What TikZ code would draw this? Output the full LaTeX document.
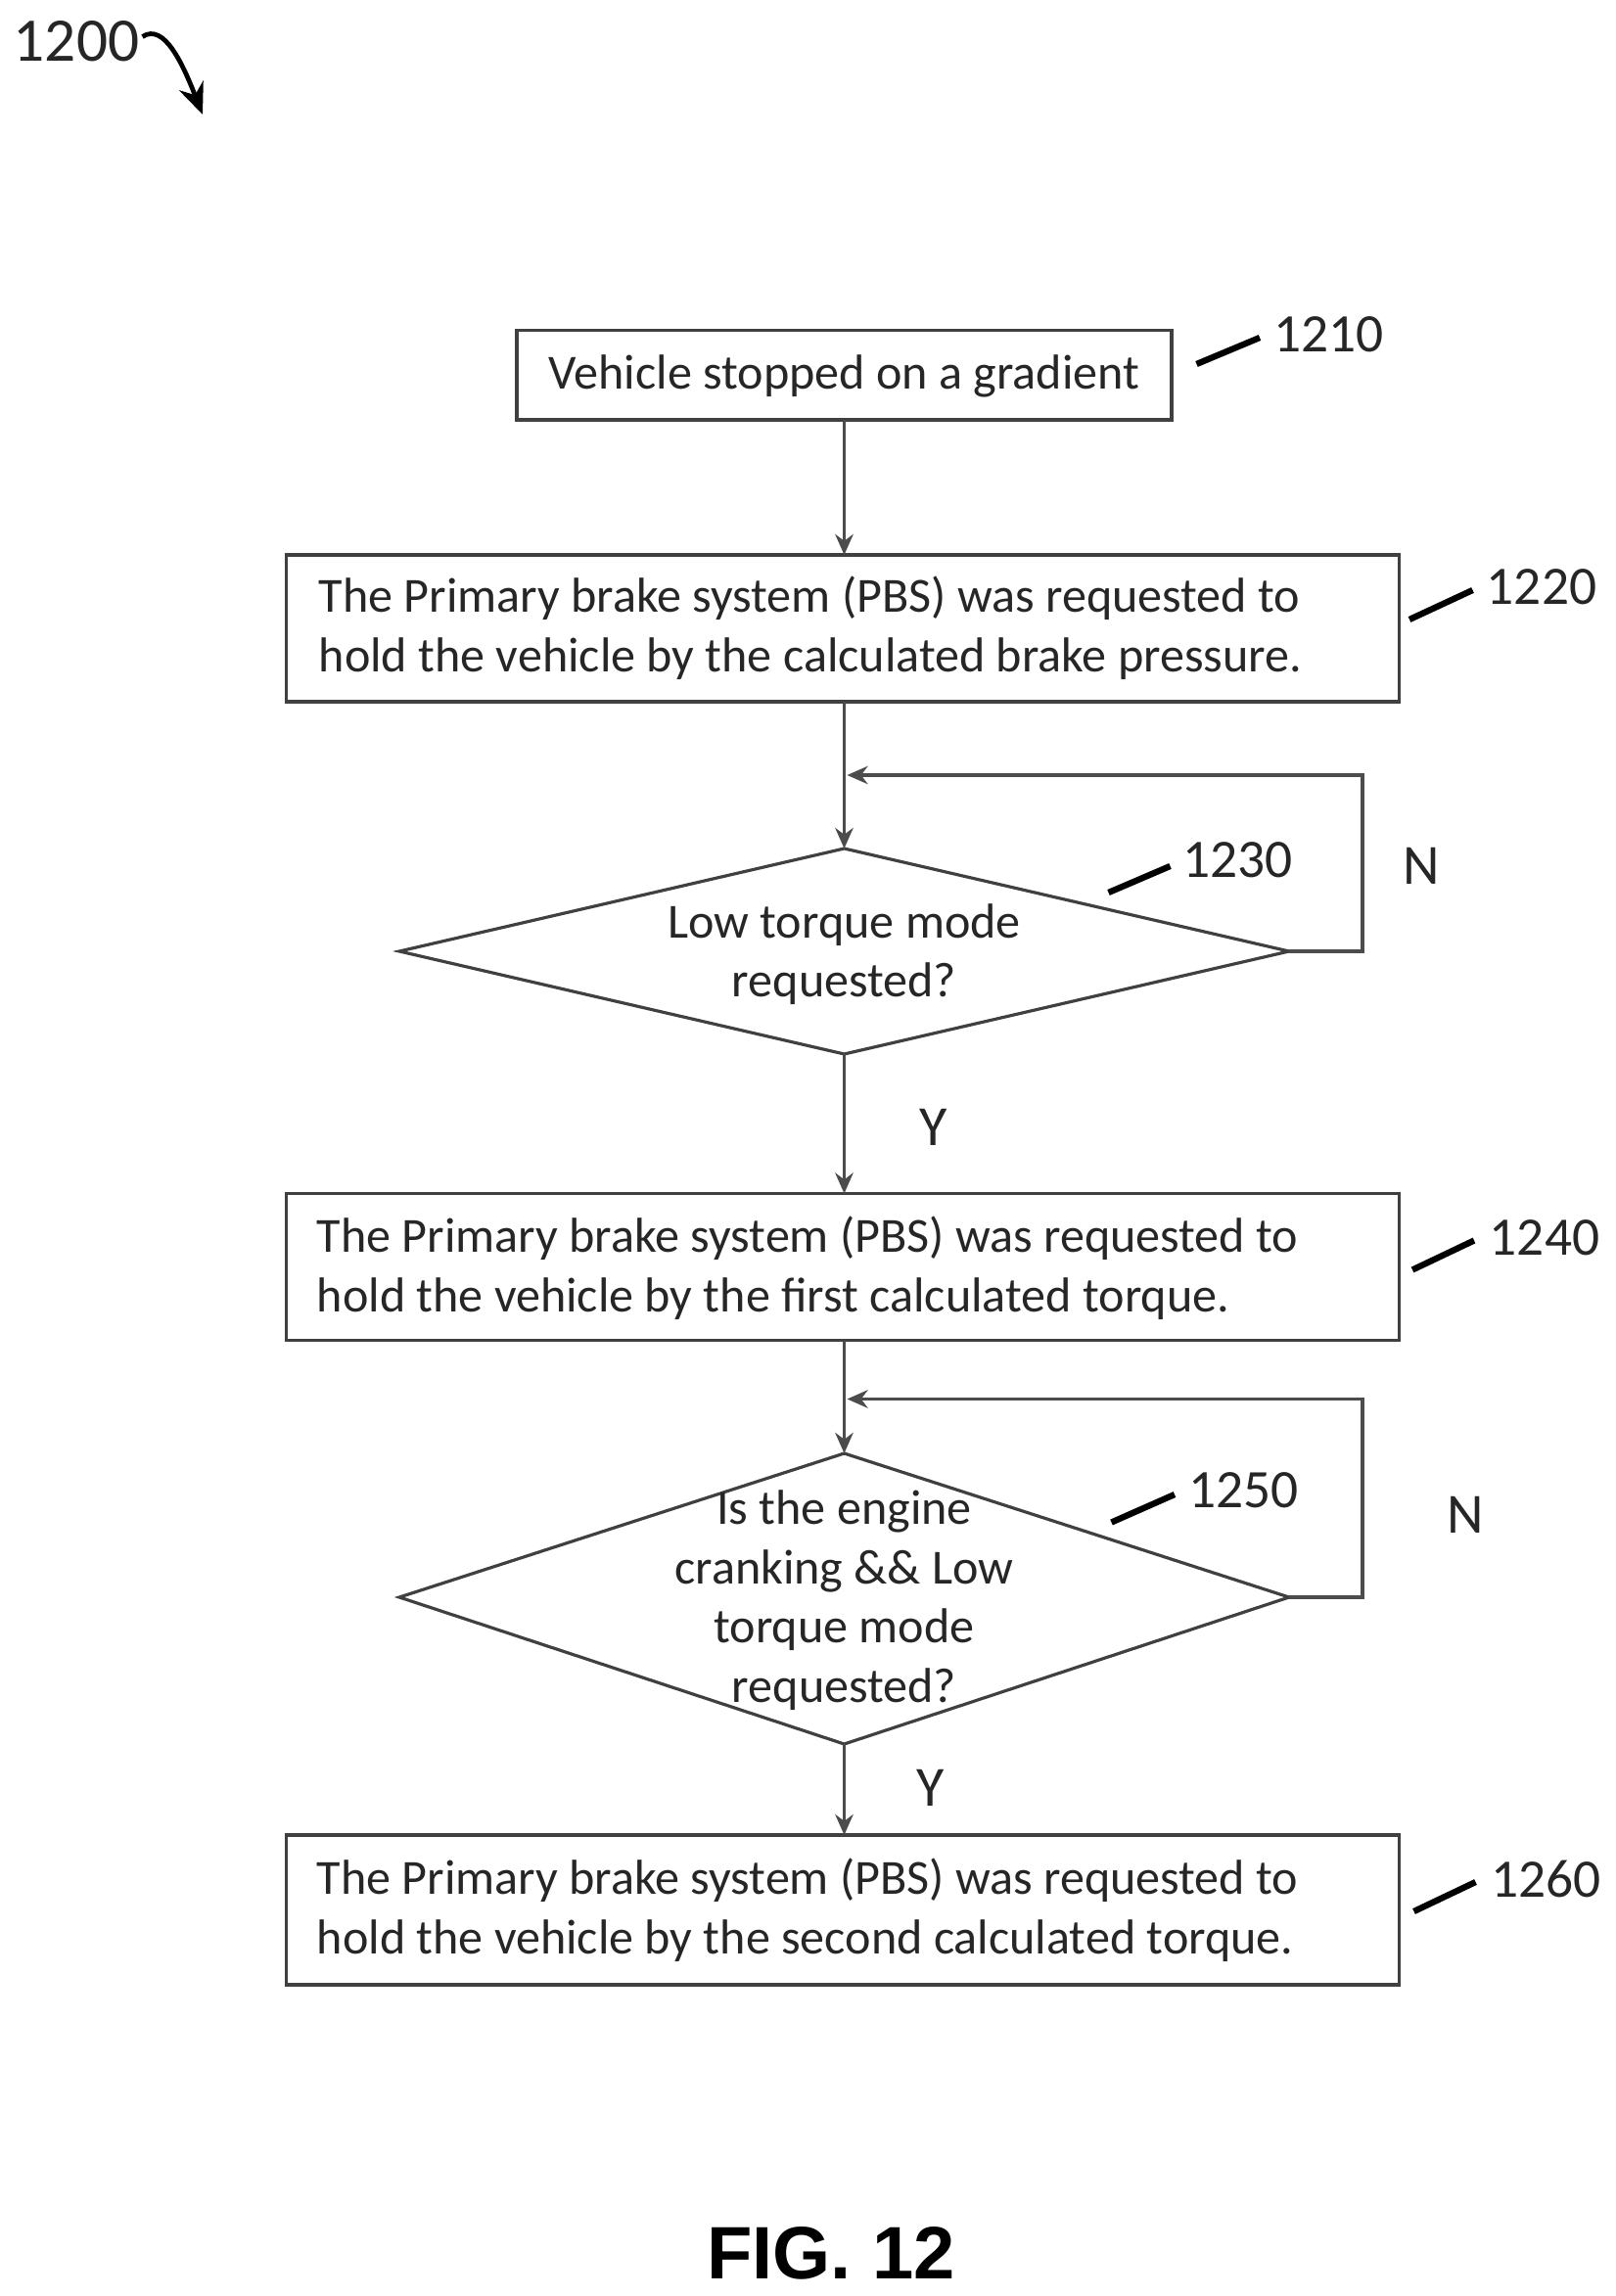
\documentclass[tikz,border=0pt]{standalone}
\usepackage{fontspec}
\setmainfont{Carlito}
\newfontfamily\figfont{Liberation Sans}
\usetikzlibrary{arrows.meta,shapes.geometric}
\begin{document}
\begin{tikzpicture}[x=0.01cm,y=-0.01cm,
  box/.style={draw=black!75,line width=0.6pt,inner sep=0pt,fill=white},
  txt/.style={font=\fontsize{9.5}{11.5}\selectfont,align=left,text=black!85},
  lbl/.style={font=\fontsize{10.5}{10}\selectfont,text=black!85},
  yn/.style={font=\fontsize{11}{10}\selectfont,text=black!85},
  ln/.style={draw=black!70,line width=0.6pt},
  arr/.style={ln,-{Stealth[length=4pt,width=3.5pt]}},
  lead/.style={draw=black,line width=1.2pt}]
\useasboundingbox (0,0) rectangle (1100,1564);
% title
\node[lbl,font=\fontsize{12}{10}\selectfont] (t1200) at (52,28) {1200};
\coordinate (c1) at (97,25); \coordinate (c2) at (138,78);
\draw[lead,line width=0.9pt,-{Stealth[length=6pt,width=5pt]}] (c1) .. controls (112,15) and (125,45) .. (c2);
% boxes
\draw[box] (352,225) rectangle (798,286);
\node[txt] (b1210) at (575,256) {Vehicle stopped on a gradient};
\draw[box] (195,378) rectangle (953,478);
\node[txt] (b1220) at (552,428) {The Primary brake system (PBS) was requested to\\hold the vehicle by the calculated brake pressure.};
\draw[box] (272,648) -- (575,578) -- (878,648) -- (575,718) -- cycle;
\node[txt,align=center] (d1230) at (575,650) {Low torque mode\\requested?};
\draw[box] (195,813) rectangle (953,913);
\node[txt] (b1240) at (550,864) {The Primary brake system (PBS) was requested to\\hold the vehicle by the first calculated torque.};
\draw[box] (272,1088) -- (575,990) -- (878,1088) -- (575,1188) -- cycle;
\node[txt,align=center] (d1250) at (575,1090) {Is the engine\\cranking \&\& Low\\torque mode\\requested?};
\draw[box] (195,1250) rectangle (953,1352);
\node[txt] (b1260) at (550,1301) {The Primary brake system (PBS) was requested to\\hold the vehicle by the second calculated torque.};
% coords
\coordinate (a1) at (575,286); \coordinate (a2) at (575,378);
\coordinate (a3) at (575,478); \coordinate (a4) at (575,578);
\coordinate (a5) at (575,718); \coordinate (a6) at (575,813);
\coordinate (a7) at (575,913); \coordinate (a8) at (575,990);
\coordinate (a9) at (575,1188); \coordinate (a10) at (575,1250);
\draw[arr] (a1) -- (a2);
\draw[arr] (a3) -- (a4);
\draw[arr] (878,648) -- (928,648) -- (928,528) -- (577,528);
\draw[arr] (a5) -- (a6);
\draw[arr] (a7) -- (a8);
\draw[arr] (878,1088) -- (928,1088) -- (928,953) -- (577,953);
\draw[arr] (a9) -- (a10);
% labels
\node[yn] (n1) at (968,590) {N};
\node[yn] (y1) at (636,768) {Y};
\node[yn] (n2) at (998,1032) {N};
\node[yn] (y2) at (634,1218) {Y};
\node[lbl] (l1210) at (905,228) {1210}; \draw[lead] (815,248) -- (858,230);
\node[lbl] (l1220) at (1050,400) {1220}; \draw[lead] (960,422) -- (1003,402);
\node[lbl] (l1230) at (843,586) {1230}; \draw[lead] (755,608) -- (797,590);
\node[lbl] (l1240) at (1052,843) {1240}; \draw[lead] (962,865) -- (1004,845);
\node[lbl] (l1250) at (847,1015) {1250}; \draw[lead] (757,1037) -- (800,1018);
\node[lbl] (l1260) at (1053,1280) {1260}; \draw[lead] (963,1302) -- (1005,1282);
\node[font=\figfont\bfseries\fontsize{14.4}{16}\selectfont] (fig) at (566,1535) {FIG. 12};
\end{tikzpicture}
\end{document}
